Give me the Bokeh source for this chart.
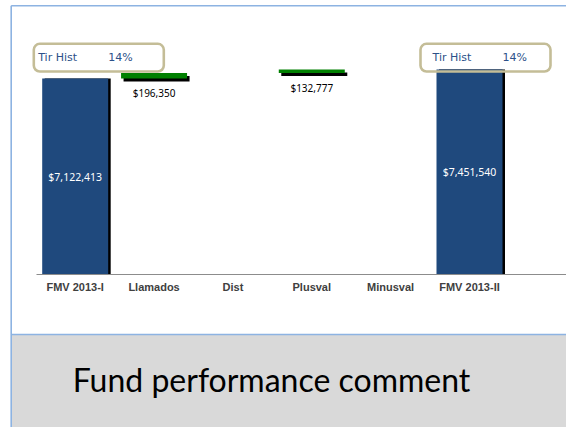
from bokeh.plotting import figure
from bokeh.models import Range1d, LinearAxis, FixedTicker, BoxAnnotation
from bokeh.core.properties import value
from bokeh.embed import file_html
from bokeh.resources import INLINE

# ---------------- data ----------------
categories = ["FMV 2013-I", "Llamados", "Dist", "Plusval", "Minusval", "FMV 2013-II"]
amounts = [7122413, 196350, 0, 132777, 0, 7451540]
is_total = [True, False, False, False, False, True]
amount_labels = ["$7,122,413", "$196,350", "", "$132,777", "", "$7,451,540"]
irr_title = "Tir Hist"
irr_values = ["14%", "14%"]
irr_positions = [0, 5]          # category index each IRR box belongs to
comment = "Fund performance comment"

# ---------------- waterfall ----------------
bottoms, tops = [], []
running = 0
for a, t in zip(amounts, is_total):
    if t:
        bottoms.append(0)
        tops.append(a)
        running = a
    else:
        bottoms.append(running)
        tops.append(running + a)
        running += a

# ---------------- layout (canvas pixels) ----------------
W, H = 566, 427
CAT0 = 74.7        # canvas x of first category centre
STEP = 78.86       # px per category
BASE = 274.3       # canvas y of the zero line
DPP = 36280.0      # dollars per pixel


def X(px):
    return 1 + (px - CAT0) / STEP


def Y(py):
    return (BASE - py) * DPP


BW = 66 / STEP
DX = 2.5 / STEP
DY = 3 * DPP

p = figure(width=W, height=H, output_backend="svg", toolbar_location=None,
           x_range=Range1d(X(0), X(W)), y_range=Range1d(Y(H), Y(0)),
           x_axis_type=None, y_axis_type=None,
           min_border=0, min_border_left=0, min_border_right=0,
           min_border_top=0, min_border_bottom=0)
p.outline_line_color = None
p.background_fill_color = "white"
p.border_fill_color = "white"

# gray comment panel
gray = BoxAnnotation(left=X(10.7), top=Y(334), fill_color="#d9d9d9", fill_alpha=1.0,
                     line_color=None, level="underlay")
p.add_layout(gray)

# frame borders (top, left, panel top)
bl, bt, pt = 10.7, 5.3, 334
p.segment(x0=[X(bl), X(bl), X(bl)], y0=[Y(bt), Y(bt), Y(pt)],
          x1=[X(bl), X(W + 5), X(W + 5)], y1=[Y(H + 5), Y(bt), Y(pt)],
          line_color="#8db3e2", line_width=1.6)

xs = [i + 1 for i in range(len(categories))]
tot_idx = [i for i in range(len(categories)) if is_total[i]]
chg_idx = [i for i in range(len(categories)) if not is_total[i] and amounts[i] != 0]

# shadows
p.vbar(x=[xs[i] + DX for i in tot_idx], bottom=[0 for i in tot_idx], top=[tops[i] for i in tot_idx],
       width=BW, fill_color="black", line_color=None)
p.vbar(x=[xs[i] + DX for i in chg_idx], bottom=[bottoms[i] - DY for i in chg_idx],
       top=[tops[i] - DY for i in chg_idx], width=BW, fill_color="black", line_color=None)
# bars
p.vbar(x=[xs[i] for i in tot_idx], bottom=[0 for i in tot_idx], top=[tops[i] for i in tot_idx],
       width=BW, fill_color="#1f497d", line_color=None)
p.vbar(x=[xs[i] for i in chg_idx], bottom=[bottoms[i] for i in chg_idx],
       top=[tops[i] for i in chg_idx], width=BW, fill_color="#008000", line_color=None)

# value labels
p.text(x=[xs[i] for i in tot_idx], y=[tops[i] / 2 for i in tot_idx],
       text=[amount_labels[i] for i in tot_idx], text_color="white",
       text_font=value("Noto Sans"), text_font_size="10.5px",
       text_align="center", text_baseline="middle")
p.text(x=[xs[i] for i in chg_idx], y=[bottoms[i] for i in chg_idx],
       text=[amount_labels[i] for i in chg_idx], text_color="black", y_offset=15,
       text_font=value("Noto Sans"), text_font_size="10px",
       text_align="center", text_baseline="middle")

# IRR boxes
box_left_px = [33.3, 420.0]
for bx in box_left_px:
    p.add_layout(BoxAnnotation(left=X(bx), right=X(bx + 130), top=Y(43.3), bottom=Y(71),
                               border_radius=6, line_color="#c4bd97", line_alpha=1.0,
                               line_width=2.6, fill_alpha=0.0))
p.text(x=[xs[i] - 37 / STEP for i in irr_positions], y=[Y(57.3)] * len(irr_positions),
       text=[irr_title] * len(irr_positions), text_color="#2c5189",
       text_font=value("DejaVu Sans"), text_font_size="11px",
       text_align="left", text_baseline="middle")
p.text(x=[xs[i] + 33 / STEP for i in irr_positions], y=[Y(57.3)] * len(irr_positions),
       text=irr_values, text_color="#2c5189",
       text_font=value("DejaVu Sans"), text_font_size="11px",
       text_align="left", text_baseline="middle")

# axis
ax = LinearAxis(fixed_location=0, bounds=(X(36), X(W + 20)),
                ticker=FixedTicker(ticks=xs),
                major_label_overrides={xs[i]: categories[i] for i in range(len(categories))})
ax.axis_line_color = "#8c8c8c"
ax.axis_line_width = 1
ax.major_tick_line_color = None
ax.minor_tick_line_color = None
ax.major_tick_out = 0
ax.major_tick_in = 0
ax.major_label_standoff = 6
ax.major_label_text_font = "Liberation Sans"
ax.major_label_text_font_style = "bold"
ax.major_label_text_font_size = "11px"
ax.major_label_text_color = "#404040"
p.add_layout(ax, "below")

# comment text
p.text(x=[X(271)], y=[Y(379)], text=[comment], text_color="black",
       text_font=value("Lato"), text_font_size="32px",
       text_align="center", text_baseline="middle")

open("out.html", "w").write(file_html(p, INLINE))
